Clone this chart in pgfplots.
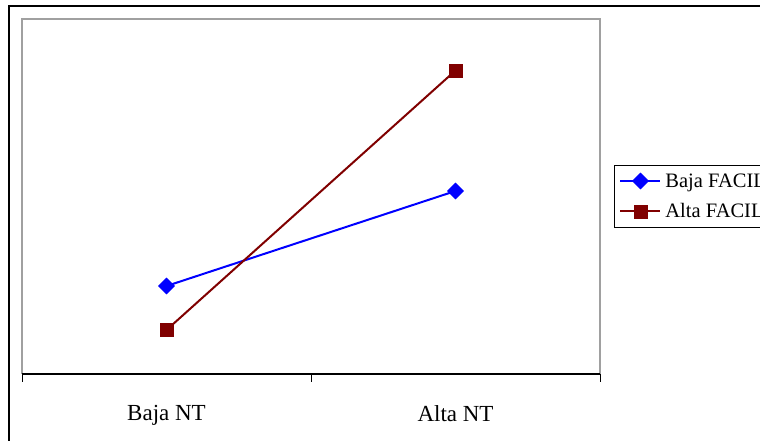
\documentclass[border=0pt]{standalone}
\usepackage{pgfplots}
\pgfplotsset{compat=1.18}
\usepackage{fontspec}
\setmainfont{Liberation Serif}
\definecolor{dred}{HTML}{800000}
\definecolor{framegray}{HTML}{A0A0A0}
\begin{document}
\begin{tikzpicture}[x=1pt,y=1pt]
\useasboundingbox (0,0) rectangle (760,441);
\clip (0,0) rectangle (760,441);
\fill[white] (0,0) rectangle (760,441);
\draw[line width=1.6pt] (8.8,-10) -- (8.8,435) -- (790,435);
\begin{axis}[
  at={(22pt,67pt)}, anchor=south west,
  scale only axis, width=578pt, height=355pt,
  xmin=0, xmax=2, ymin=0, ymax=3.55,
  enlargelimits=false, clip=false,
  axis line style={draw=none},
  ytick=\empty,
  xtick={0.5,1.5}, xticklabels={Baja NT, Alta NT},
  major tick length=0pt,
  extra x ticks={0,1,2}, extra x tick labels={},
  extra x tick style={major tick length=8pt, tick align=outside, tick style={black, line width=0.9pt}},
  xtick pos=bottom,
  xticklabel style={font=\fontsize{23}{27}\selectfont, yshift=-28pt},
  legend style={at={(1.0242,0.5887)}, anchor=north west, draw=black, line width=0.9pt,
    font=\fontsize{20.5}{24}\selectfont, inner xsep=5pt, inner ysep=6pt, row sep=11pt,
    nodes={inner sep=2pt}},
  legend cell align=left,
  legend image code/.code={\draw[mark repeat=2,mark phase=2,#1] plot coordinates {(0pt,0pt) (20pt,0pt) (40pt,0pt)};},
]
\addplot[blue, line width=2pt, mark=square*, mark size=5.7pt, mark options={rotate=45, solid, fill=blue, line width=0.5pt}]
  coordinates {(0.5,0.88) (1.5,1.83)};
\addlegendentry{\hspace{2pt}Baja FACIL}
\addplot[dred, line width=2pt, mark=square*, mark size=6.5pt, mark options={solid, fill=dred, line width=0.5pt}]
  coordinates {(0.5,0.44) (1.5,3.035)};
\addlegendentry{\hspace{2pt}Alta FACIL}
\draw[framegray, line width=1.6pt] (rel axis cs:0,0) -- (rel axis cs:0,1) -- (rel axis cs:1,1) -- (rel axis cs:1,0);
\draw[black, line width=1.2pt] (rel axis cs:0,0) -- (rel axis cs:1,0);
\end{axis}
\end{tikzpicture}
\end{document}
